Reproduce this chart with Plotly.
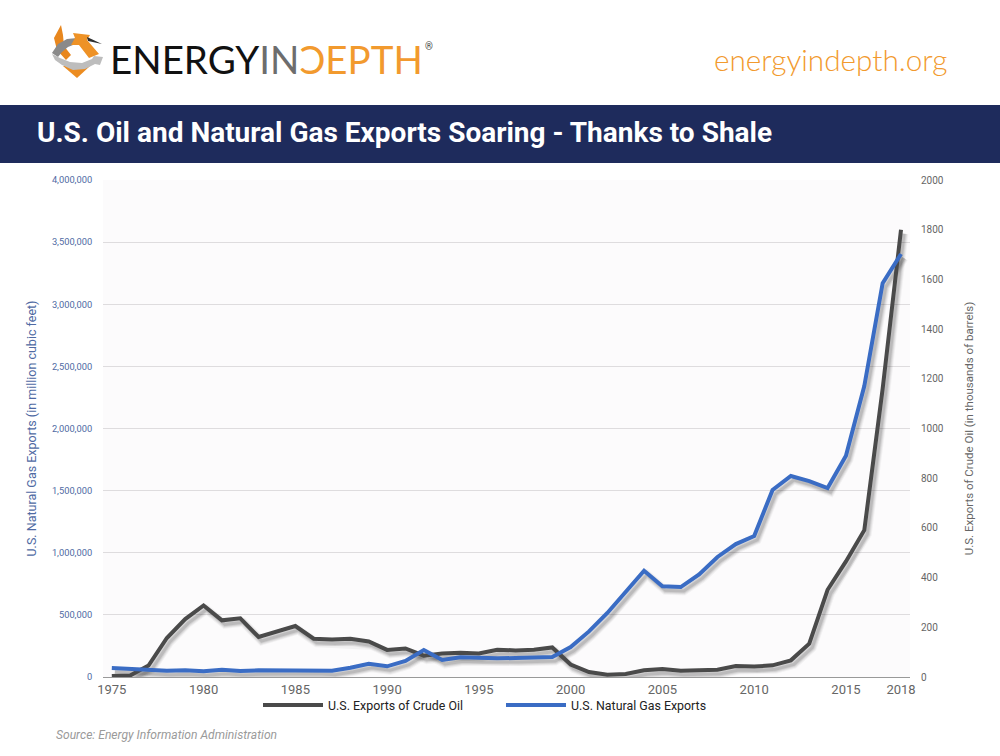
import plotly.graph_objects as go

years = list(range(1975, 2019))

# thousands of barrels, right axis
oil_exports = [4, 6, 46, 157, 233, 288, 228, 236, 161, 184, 205, 154, 151, 154, 143, 109, 115, 86, 95, 98, 95,
               110, 107, 110, 119, 50, 20, 9, 12, 27, 32, 25, 27, 29, 44, 42, 47, 67, 134, 351, 465, 591, 1160, 1800]
# million cubic feet, left axis
gas_exports = [72000, 64000, 54000, 51000, 54000, 46000, 59000, 48000, 54000, 54000, 54000, 59000, 51000, 75000,
               107000, 86000, 129000, 217000, 137000, 158000, 153000, 150000, 153000, 156000, 161000, 241000,
               367000, 515000, 689000, 855000, 730000, 724000, 826000, 966000, 1070000, 1135000, 1505000,
               1618000, 1577000, 1521000, 1780000, 2342000, 3170000, 3404000]

x_ticks = [1975, 1980, 1985, 1990, 1995, 2000, 2005, 2010, 2015, 2018]
left_ticks = [0, 500000, 1000000, 1500000, 2000000, 2500000, 3000000, 3500000, 4000000]
right_ticks = [0, 200, 400, 600, 800, 1000, 1200, 1400, 1600, 1800, 2000]

NAVY = "#1e2b5c"
ORANGE = "#f29a2e"
OIL_COLOR = "#4a4a4a"
GAS_COLOR = "#3a6cc4"
LEFT_COLOR = "#4f6aa3"
RIGHT_COLOR = "#666666"

# plot area in page pixels
L, R, T, B = 103, 910, 180, 677

X_RANGE = [1974.52, 2018.49]
OIL_MAX = 2000
GAS_MAX = 4000000
SHADOW_DX = 3  # px
SHADOW_DY = 4  # px


def px(x, y):
    return (x - L) / (R - L), (B - y) / (B - T)


def poly(points, color):
    parts = []
    for i, (x, y) in enumerate(points):
        fx, fy = px(x, y)
        parts.append(f"{'M' if i == 0 else 'L'}{fx:.5f},{fy:.5f}")
    return dict(type="path", xref="paper", yref="paper", path=" ".join(parts) + " Z",
                fillcolor=color, line_width=0, layer="above")


def page_text(x, y, text, size, color, family="Roboto", anchor="left", **font_extra):
    fx, fy = px(x, y)
    return dict(xref="paper", yref="paper", x=fx, y=fy, text=text, showarrow=False, xanchor=anchor,
                yanchor="middle", font=dict(family=family, size=size, color=color, **font_extra))


fig = go.Figure()

# shadows: same data on hidden axes whose ranges are nudged a few pixels, stacked to look blurred
for width, alpha in [(9, 0.04), (7, 0.06), (5, 0.08), (3, 0.10)]:
    shadow_line = dict(color=f"rgba(0,0,0,{alpha})", width=width)
    fig.add_trace(go.Scatter(x=years, y=oil_exports, mode="lines", line=shadow_line, showlegend=False,
                             hoverinfo="skip", xaxis="x", yaxis="y"))
    fig.add_trace(go.Scatter(x=years, y=gas_exports, mode="lines", line=shadow_line, showlegend=False,
                             hoverinfo="skip", xaxis="x", yaxis="y2"))

fig.add_trace(go.Scatter(x=years, y=oil_exports, name="U.S. Exports of Crude Oil", mode="lines",
                         line=dict(color=OIL_COLOR, width=4), xaxis="x2", yaxis="y3"))
fig.add_trace(go.Scatter(x=years, y=gas_exports, name="U.S. Natural Gas Exports", mode="lines",
                         line=dict(color=GAS_COLOR, width=4), xaxis="x2", yaxis="y4"))

banner_top = (B - 105) / (B - T)
banner_bottom = (B - 163) / (B - T)
shapes = [
    dict(type="rect", xref="paper", yref="paper", x0=-L / (R - L), x1=(1000 - L) / (R - L),
         y0=banner_bottom, y1=banner_top, fillcolor=NAVY, line_width=0, layer="above"),
    # logo swirl
    poly([(63, 66), (77, 78), (90, 66)], "#ec8c20"),
    poly([(61, 25), (54, 38), (57, 50), (66, 60), (71, 55), (64, 46), (63, 35)], "#e8871e"),
    poly([(52, 53), (58, 44), (67, 39), (77, 38), (78, 43), (68, 47), (62, 52), (58, 57)], "#8a8a8a"),
    poly([(73, 33), (90, 35), (87, 40), (99, 54), (89, 58), (79, 45), (71, 45), (75, 38)], "#ee9226"),
    poly([(87, 37), (102, 44), (88, 41)], "#2e2e2e"),
    poly([(52, 54), (60, 58), (70, 62), (82, 63), (92, 59), (94, 56), (103, 57), (100, 65), (95, 64),
          (85, 69), (73, 70), (62, 65), (55, 60)], "#bdbdbd"),
]

annotations = [
    page_text(108, 59, "<span style='color:#111111'>ENERGY</span><span style='color:#6d6d6d'>IN</span>"
                       f"<span style='color:{ORANGE}'>ƆEPTH</span>", 38.5, "#111111", family="Lato"),
    page_text(423, 47, "®", 10, "#444444"),
    page_text(949, 59, "energyindepth.org", 29.7, ORANGE, family="Lato", anchor="right", weight=300),
    page_text(35, 133, "U.S. Oil and Natural Gas Exports Soaring - Thanks to Shale", 28, "#ffffff", weight=700),
    page_text(54, 735, "<i>Source: Energy Information Administration</i>", 12.1, "#9a9a9a"),
]

year_per_px = (X_RANGE[1] - X_RANGE[0]) / (R - L)
fig.update_layout(
    width=1000,
    height=756,
    margin=dict(l=L, r=1000 - R, t=T, b=756 - B),
    paper_bgcolor="white",
    plot_bgcolor="#fcfbfc",
    font=dict(family="Roboto"),
    shapes=shapes,
    annotations=annotations,
    showlegend=True,
    legend=dict(orientation="h", x=(258 - L) / (R - L), y=-0.027, xanchor="left", yanchor="top", itemwidth=60,
                entrywidth=168, entrywidthmode="pixels",
                font=dict(size=12.4, color="#222222"), bgcolor="rgba(0,0,0,0)"),
    # hidden axes for the shadows
    xaxis=dict(visible=False, range=[X_RANGE[0] - SHADOW_DX * year_per_px, X_RANGE[1] - SHADOW_DX * year_per_px]),
    yaxis=dict(visible=False, range=[SHADOW_DY * OIL_MAX / (B - T), OIL_MAX + SHADOW_DY * OIL_MAX / (B - T)]),
    yaxis2=dict(visible=False, overlaying="y",
                range=[SHADOW_DY * GAS_MAX / (B - T), GAS_MAX + SHADOW_DY * GAS_MAX / (B - T)]),
    # visible axes
    xaxis2=dict(overlaying="x", anchor="y3", range=X_RANGE, tickmode="array", tickvals=x_ticks, showgrid=False,
                zeroline=False, showline=True, linecolor="#999999", linewidth=1, ticks="",
                tickfont=dict(size=13, color="#666666")),
    yaxis3=dict(side="right", overlaying="y", anchor="x2", range=[0, OIL_MAX], tickmode="array",
                tickvals=right_ticks, showgrid=False, zeroline=False, ticks="outside", ticklen=8,
                tickcolor="rgba(0,0,0,0)", tickfont=dict(size=10, color=RIGHT_COLOR),
                title=dict(text="U.S. Exports of Crude Oil (in thousands of barrels)",
                           font=dict(size=11.5, color=RIGHT_COLOR), standoff=22)),
    yaxis4=dict(side="left", overlaying="y", anchor="x2", range=[0, GAS_MAX], tickmode="array",
                tickvals=left_ticks, tickformat=",d", showgrid=True, gridcolor="#dedcde", gridwidth=1,
                zeroline=False, ticks="outside", ticklen=8, tickcolor="rgba(0,0,0,0)",
                tickfont=dict(size=9.3, color=LEFT_COLOR),
                title=dict(text="U.S. Natural Gas Exports (in million cubic feet)",
                           font=dict(size=12.5, color=LEFT_COLOR), standoff=12)),
)

# the page should have no body margin
fig.write_html("out.html", post_script="document.body.style.margin = '0';", config={"displayModeBar": False})
